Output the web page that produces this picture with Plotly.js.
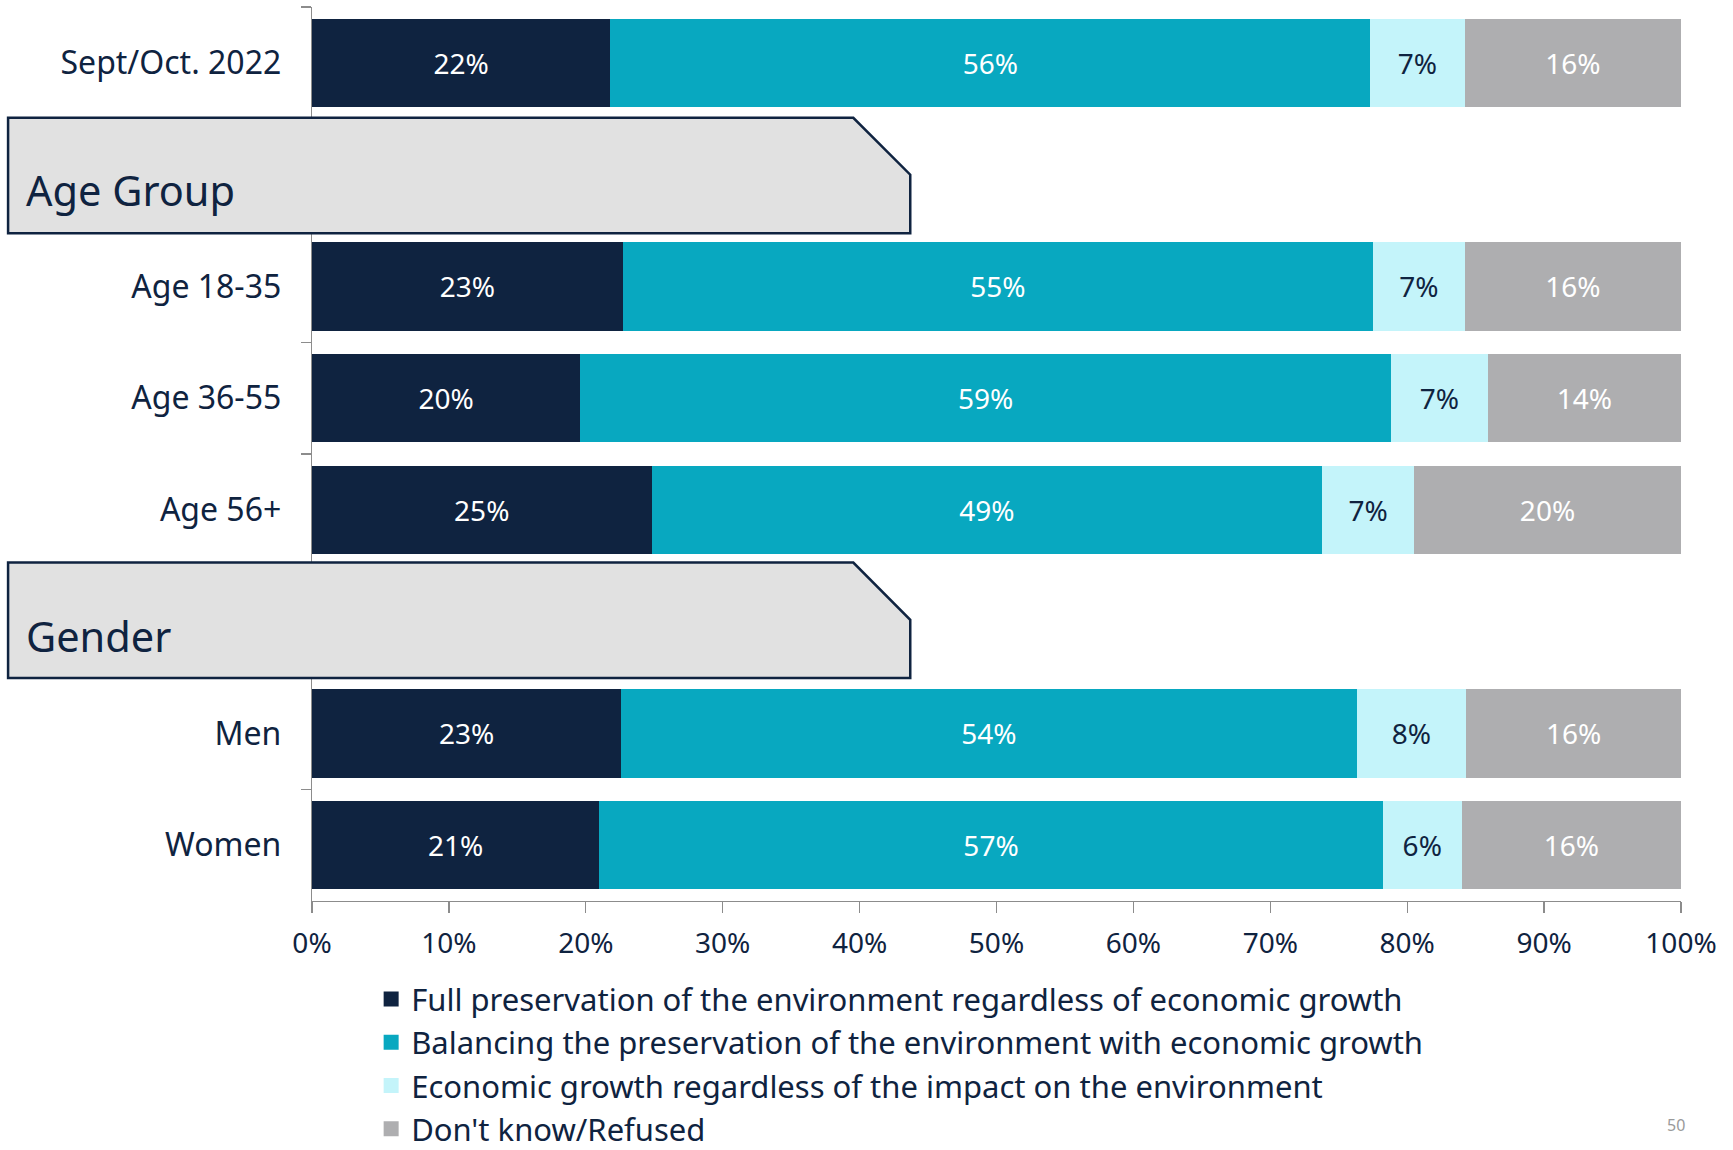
<!DOCTYPE html>
<html>
<head>
<meta charset="utf-8">
<script src="https://cdn.plot.ly/plotly-3.0.1.min.js"></script>
<style>html,body{margin:0;padding:0;background:#fff;}#chart{width:1733px;height:1150px;}</style>
</head>
<body>
<div id="chart"></div>
<script>
// ---- data ----
const rows = ['Sept/Oct. 2022', 'Age 18-35', 'Age 36-55', 'Age 56+', 'Men', 'Women'];
const axisOrder = ['Sept/Oct. 2022', ' ', 'Age 18-35', 'Age 36-55', 'Age 56+', '  ', 'Men', 'Women'];
const fullPreservation = [21.8, 22.7, 19.6, 24.8, 22.6, 21.0];
const balancing        = [55.5, 54.8, 59.2, 49.0, 53.7, 57.2];
const economicGrowth   = [6.9, 6.7, 7.1, 6.7, 8.0, 5.8];
const dontKnow         = [15.8, 15.8, 14.1, 19.5, 15.7, 16.0];
const seriesNames = [
  'Full preservation of the environment regardless of economic growth',
  'Balancing the preservation of the environment with economic growth',
  'Economic growth regardless of the impact on the environment',
  "Don't know/Refused"
];
const xTicks = [0, 10, 20, 30, 40, 50, 60, 70, 80, 90, 100];
const sectionLabels = ['Age Group', 'Gender'];
const pageNumber = '50';

// ---- styles ----
const FONT = 'Noto Sans, Open Sans, sans-serif';
const NAVY = '#0f2340';
const colors = ['#0f2340', '#08a8c0', '#c4f4fa', '#aeaeb0'];
const textColors = ['#ffffff', '#ffffff', '#0f2340', '#ffffff'];
const seriesValues = [fullPreservation, balancing, economicGrowth, dontKnow];

const barTraces = seriesValues.map((vals, i) => ({
  type: 'bar',
  orientation: 'h',
  name: seriesNames[i],
  y: rows,
  x: vals,
  text: vals.map(v => Math.round(v) + '%'),
  textposition: 'inside',
  insidetextanchor: 'middle',
  textangle: 0,
  constraintext: 'none',
  textfont: {family: FONT, size: 28, color: textColors[i]},
  marker: {color: colors[i], line: {width: 0}},
  showlegend: false,
  hoverinfo: 'skip',
  cliponaxis: false
}));

// legend entries with square keys (no data points)
const legendTraces = seriesNames.map((name, i) => ({
  type: 'scatter',
  mode: 'markers',
  name: name,
  x: [null],
  y: [null],
  marker: {symbol: 'square', size: 15, color: colors[i]},
  legendgroup: 'g' + i,
  showlegend: true,
  hoverinfo: 'skip'
}));

const axisGray = '#8c8c8c';

const layout = {
  width: 1733,
  height: 1150,
  margin: {l: 311.5, r: 52, t: 6.6, b: 248.5, pad: 0, autoexpand: false},
  paper_bgcolor: '#ffffff',
  plot_bgcolor: '#ffffff',
  barmode: 'stack',
  bargap: 0.21,
  hovermode: false,
  font: {family: FONT, color: NAVY},
  xaxis: {
    range: [0, 100.0001],
    tickvals: xTicks,
    ticktext: xTicks.map(v => v + '%'),
    ticks: 'outside',
    ticklen: 11,
    tickwidth: 1.3,
    tickcolor: axisGray,
    showline: true,
    linecolor: axisGray,
    linewidth: 1.3,
    showgrid: false,
    zeroline: false,
    ticklabelstandoff: 6,
    tickfont: {family: FONT, size: 28, color: NAVY}
  },
  yaxis: {
    type: 'category',
    categoryorder: 'array',
    categoryarray: axisOrder,
    autorange: 'reversed',
    tickson: 'boundaries',
    ticks: 'outside',
    ticklen: 10,
    tickwidth: 1.3,
    tickcolor: axisGray,
    showline: true,
    linecolor: axisGray,
    linewidth: 1.3,
    showgrid: false,
    zeroline: false,
    ticklabelstandoff: 23,
    tickfont: {family: FONT, size: 32, color: NAVY}
  },
  showlegend: true,
  legend: {
    orientation: 'v',
    x: 0.0432,
    y: -0.0797,
    xanchor: 'left',
    yanchor: 'top',
    traceorder: 'grouped',
    tracegroupgap: 0,
    font: {family: FONT, size: 31, color: NAVY},
    bgcolor: 'rgba(0,0,0,0)'
  },
  shapes: [
    {type: 'path', xref: 'paper', yref: 'paper', layer: 'above',
     path: 'M -0.2220,0.8761 L 0.3954,0.8761 L 0.4370,0.8124 L 0.4370,0.7470 L -0.2220,0.7470 Z',
     fillcolor: '#e1e1e1', line: {color: NAVY, width: 2.5}},
    {type: 'path', xref: 'paper', yref: 'paper', layer: 'above',
     path: 'M -0.2220,0.3786 L 0.3954,0.3786 L 0.4370,0.3146 L 0.4370,0.2494 L -0.2220,0.2494 Z',
     fillcolor: '#e1e1e1', line: {color: NAVY, width: 2.5}}
  ],
  annotations: [
    {text: sectionLabels[0], xref: 'paper', yref: 'paper', x: -0.2105, y: 0.7951,
     xanchor: 'left', yanchor: 'middle', showarrow: false,
     font: {family: FONT, size: 41.5, color: NAVY}},
    {text: sectionLabels[1], xref: 'paper', yref: 'paper', x: -0.2105, y: 0.2960,
     xanchor: 'left', yanchor: 'middle', showarrow: false,
     font: {family: FONT, size: 41.5, color: NAVY}},
    {text: pageNumber, xref: 'paper', yref: 'paper', x: 0.988, y: -0.2655,
     xanchor: 'left', yanchor: 'bottom', showarrow: false,
     font: {family: FONT, size: 16, color: '#9a9a9a'}}
  ]
};

Plotly.newPlot('chart', barTraces.concat(legendTraces), layout, {displayModeBar: false, staticPlot: true});
</script>
</body>
</html>
